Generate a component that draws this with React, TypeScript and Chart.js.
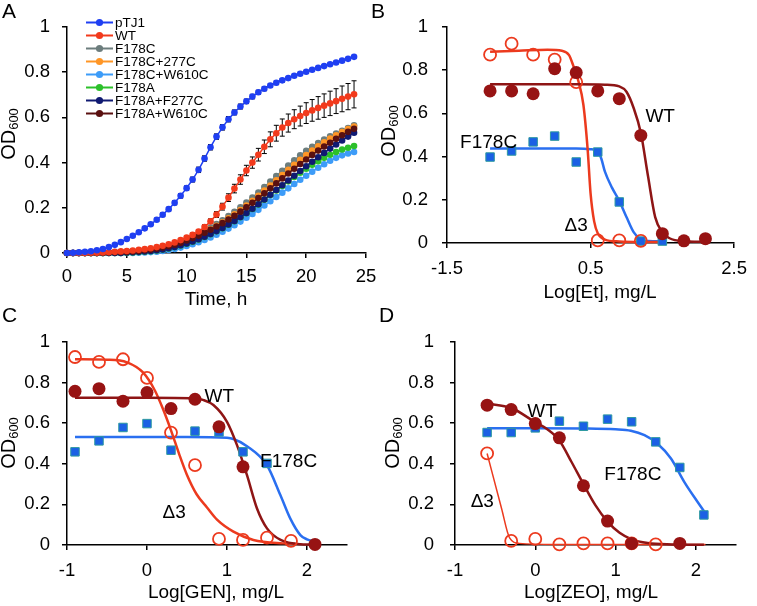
import React, { useEffect, useRef } from "react";
import { Chart, registerables } from "chart.js";

Chart.register(...registerables);

const FONT = "'Liberation Sans', Arial, Helvetica, sans-serif";
const W = 757;
const H = 606;

// ---------------- Panel A: growth curves ----------------
const TIME_H = [
  0, 0.5, 1, 1.5, 2, 2.5, 3, 3.5, 4, 4.5,
  5, 5.5, 6, 6.5, 7, 7.5, 8, 8.5, 9, 9.5,
  10, 10.5, 11, 11.5, 12, 12.5, 13, 13.5, 14, 14.5,
  15, 15.5, 16, 16.5, 17, 17.5, 18, 18.5, 19, 19.5,
  20, 20.5, 21, 21.5, 22, 22.5, 23, 23.5, 24,
];

const A_PTJ1 = [
  0.000, 0.001, 0.003, 0.005, 0.008, 0.012, 0.018, 0.026, 0.036, 0.048,
  0.062, 0.076, 0.092, 0.109, 0.127, 0.147, 0.169, 0.194, 0.222, 0.253,
  0.287, 0.325, 0.368, 0.418, 0.468, 0.515, 0.556, 0.592, 0.622, 0.648,
  0.671, 0.692, 0.711, 0.727, 0.741, 0.753, 0.764, 0.774, 0.784, 0.793,
  0.802, 0.811, 0.819, 0.827, 0.835, 0.843, 0.851, 0.859, 0.868,
];
const A_PTJ1_ERR = [
  0, 0, 0, 0, 0, 0, 0, 0, 0, 0,
  0.004, 0.005, 0.005, 0.006, 0.006, 0.007, 0.008, 0.008, 0.009, 0.01,
  0.01, 0.011, 0.012, 0.012, 0.012, 0.012, 0.012, 0.012, 0.011, 0.011,
  0.01, 0.01, 0.009, 0.009, 0.008, 0.008, 0.008, 0.007, 0.007, 0.007,
  0.006, 0.006, 0.006, 0.006, 0.006, 0.006, 0.006, 0.006, 0.006,
];
const A_WT = [
  0.000, 0.000, 0.000, 0.000, 0.001, 0.001, 0.002, 0.003, 0.005, 0.007,
  0.009, 0.011, 0.014, 0.017, 0.021, 0.026, 0.032, 0.039, 0.047, 0.057,
  0.068, 0.080, 0.095, 0.115, 0.140, 0.170, 0.205, 0.245, 0.285, 0.325,
  0.365, 0.400, 0.435, 0.470, 0.503, 0.530, 0.555, 0.575, 0.592, 0.606,
  0.619, 0.631, 0.642, 0.652, 0.662, 0.672, 0.682, 0.692, 0.702,
];
const A_WT_ERR = [
  0, 0, 0, 0, 0, 0, 0, 0, 0, 0,
  0, 0, 0, 0, 0, 0, 0.003, 0.004, 0.005, 0.006,
  0.007, 0.008, 0.009, 0.01, 0.011, 0.013, 0.015, 0.017, 0.019, 0.021,
  0.023, 0.025, 0.028, 0.03, 0.033, 0.035, 0.038, 0.04, 0.042, 0.044,
  0.046, 0.048, 0.05, 0.052, 0.054, 0.055, 0.057, 0.058, 0.06,
];
const A_F178C = [
  0, 0, 0, 0, 0, 0, 0, 0.001, 0.002, 0.003,
  0.004, 0.006, 0.008, 0.011, 0.014, 0.018, 0.023, 0.029, 0.036, 0.046,
  0.058, 0.070, 0.083, 0.097, 0.112, 0.128, 0.145, 0.163, 0.182, 0.202,
  0.223, 0.245, 0.268, 0.292, 0.316, 0.340, 0.364, 0.387, 0.410, 0.432,
  0.452, 0.470, 0.487, 0.502, 0.516, 0.529, 0.541, 0.553, 0.565,
];
const A_F178C_277C = [
  0, 0, 0, 0, 0, 0, 0, 0.001, 0.002, 0.003,
  0.004, 0.005, 0.007, 0.010, 0.013, 0.017, 0.022, 0.027, 0.034, 0.043,
  0.054, 0.066, 0.078, 0.091, 0.105, 0.120, 0.136, 0.153, 0.171, 0.190,
  0.210, 0.231, 0.253, 0.276, 0.299, 0.322, 0.345, 0.368, 0.390, 0.412,
  0.433, 0.453, 0.472, 0.490, 0.506, 0.521, 0.535, 0.548, 0.560,
];
const A_F178C_W610C = [
  0, 0, 0, 0, 0, 0, 0, 0, 0, 0,
  0, 0, 0.001, 0.002, 0.004, 0.006, 0.009, 0.013, 0.018, 0.024,
  0.031, 0.039, 0.048, 0.058, 0.069, 0.081, 0.094, 0.108, 0.123, 0.139,
  0.156, 0.173, 0.191, 0.210, 0.229, 0.248, 0.267, 0.286, 0.305, 0.324,
  0.342, 0.360, 0.377, 0.393, 0.408, 0.421, 0.432, 0.440, 0.447,
];
const A_F178A = [
  0, 0, 0, 0, 0, 0, 0, 0, 0, 0,
  0.001, 0.002, 0.004, 0.006, 0.008, 0.011, 0.015, 0.020, 0.026, 0.033,
  0.041, 0.050, 0.060, 0.071, 0.083, 0.096, 0.110, 0.125, 0.141, 0.158,
  0.176, 0.195, 0.215, 0.236, 0.257, 0.277, 0.297, 0.317, 0.336, 0.355,
  0.373, 0.390, 0.406, 0.421, 0.435, 0.447, 0.458, 0.466, 0.473,
];
const A_F178A_F277C = [
  0, 0, 0, 0, 0, 0, 0, 0, 0, 0,
  0.002, 0.003, 0.005, 0.007, 0.009, 0.012, 0.016, 0.021, 0.027, 0.034,
  0.042, 0.051, 0.061, 0.072, 0.084, 0.097, 0.111, 0.126, 0.142, 0.159,
  0.177, 0.196, 0.216, 0.237, 0.258, 0.279, 0.300, 0.321, 0.342, 0.363,
  0.384, 0.404, 0.424, 0.443, 0.462, 0.480, 0.498, 0.515, 0.532,
];
const A_F178A_W610C = [
  0, 0, 0, 0, 0, 0, 0.001, 0.002, 0.003, 0.004,
  0.005, 0.007, 0.009, 0.012, 0.015, 0.019, 0.024, 0.030, 0.037, 0.045,
  0.055, 0.066, 0.077, 0.090, 0.103, 0.117, 0.132, 0.148, 0.165, 0.183,
  0.202, 0.222, 0.243, 0.264, 0.286, 0.308, 0.330, 0.352, 0.373, 0.394,
  0.414, 0.434, 0.453, 0.471, 0.488, 0.505, 0.521, 0.536, 0.550,
];

const A_NAMES = ["pTJ1", "WT", "F178C", "F178C+277C", "F178C+W610C", "F178A", "F178A+F277C", "F178A+W610C"];
const A_COLORS = ["#1f3ff2", "#f23a1c", "#6c7d7d", "#ff9626", "#3d9cf8", "#2cc02a", "#101a72", "#5a1010"];
const A_VALUES = [A_PTJ1, A_WT, A_F178C, A_F178C_277C, A_F178C_W610C, A_F178A, A_F178A_F277C, A_F178A_W610C];
const A_ERRORS = [A_PTJ1_ERR, A_WT_ERR, null, null, null, null, null, null];

const A_X_TICKS = [0, 5, 10, 15, 20, 25];
const OD_TICKS = [0, 0.2, 0.4, 0.6, 0.8, 1];
const B_X_TICKS = [-1.5, 0.5, 2.5];
const CD_X_TICKS = [-1, 0, 1, 2];

// ---------------- Panel B: ethidium ----------------
const B_WT_X = [-0.9, -0.6, -0.3, 0, 0.3, 0.6, 0.9, 1.2, 1.5, 1.8, 2.1];
const B_WT_Y = [0.704, 0.704, 0.691, 0.807, 0.789, 0.704, 0.668, 0.498, 0.043, 0.010, 0.020];
const B_D3_X = [-0.9, -0.6, -0.3, 0, 0.3, 0.6, 0.9, 1.2];
const B_D3_Y = [0.872, 0.923, 0.872, 0.849, 0.745, 0.012, 0.012, 0.010];
const B_F178C_X = [-0.9, -0.6, -0.3, 0, 0.3, 0.6, 0.9, 1.2, 1.5];
const B_F178C_Y = [0.398, 0.426, 0.468, 0.495, 0.375, 0.421, 0.190, 0.009, 0.009];

const B_WT_FIT_X = [-0.9, -0.3, 0.3, 0.7, 0.9, 1.0, 1.1, 1.2, 1.3, 1.4, 1.5, 1.6, 1.8, 2.1];
const B_WT_FIT_Y = [0.735, 0.735, 0.735, 0.733, 0.725, 0.70, 0.625, 0.51, 0.31, 0.12, 0.05, 0.022, 0.008, 0.005];
const B_D3_FIT_X = [-0.9, -0.5, -0.1, 0.1, 0.2, 0.26, 0.33, 0.4, 0.46, 0.5, 0.55, 0.6, 0.7, 0.9, 1.2, 1.5];
const B_D3_FIT_Y = [0.885, 0.89, 0.895, 0.89, 0.87, 0.82, 0.75, 0.64, 0.43, 0.23, 0.10, 0.045, 0.016, 0.007, 0.005, 0.005];
const B_F178C_FIT_X = [-0.9, -0.3, 0.3, 0.5, 0.6, 0.65, 0.7, 0.8, 0.9, 1.0, 1.1, 1.2, 1.3, 1.5];
const B_F178C_FIT_Y = [0.438, 0.438, 0.437, 0.434, 0.425, 0.39, 0.33, 0.255, 0.195, 0.12, 0.05, 0.016, 0.009, 0.008];

// ---------------- Panel C: gentamicin ----------------
const C_WT_X = [-0.9, -0.6, -0.3, 0, 0.3, 0.6, 0.9, 1.2, 2.1];
const C_WT_Y = [0.757, 0.770, 0.708, 0.751, 0.672, 0.718, 0.582, 0.385, 0.003];
const C_D3_X = [-0.9, -0.6, -0.3, 0, 0.3, 0.6, 0.9, 1.2, 1.5, 1.8];
const C_D3_Y = [0.926, 0.902, 0.915, 0.823, 0.554, 0.393, 0.030, 0.025, 0.036, 0.020];
const C_F178C_X = [-0.9, -0.6, -0.3, 0, 0.3, 0.6, 0.9, 1.2, 1.5];
const C_F178C_Y = [0.459, 0.513, 0.579, 0.598, 0.467, 0.561, 0.557, 0.459, 0.402];

const C_WT_FIT_X = [-0.9, 0, 0.6, 0.7, 0.83, 1.0, 1.125, 1.25, 1.375, 1.5, 1.67, 1.92, 2.15];
const C_WT_FIT_Y = [0.725, 0.725, 0.722, 0.715, 0.69, 0.607, 0.492, 0.344, 0.18, 0.082, 0.025, 0.004, 0.002];
const C_D3_FIT_X = [-0.9, -0.5, -0.25, -0.05, 0.1, 0.2, 0.3, 0.4, 0.5, 0.62, 0.75, 0.875, 1.08, 1.33, 1.7, 1.85];
const C_D3_FIT_Y = [0.915, 0.913, 0.9, 0.85, 0.76, 0.67, 0.565, 0.45, 0.345, 0.25, 0.185, 0.125, 0.066, 0.025, 0.008, 0.006];
const C_F178C_FIT_X = [-0.9, 0.5, 1.0, 1.08, 1.25, 1.5, 1.667, 1.79, 1.917, 2.0, 2.125];
const C_F178C_FIT_Y = [0.532, 0.532, 0.528, 0.522, 0.487, 0.393, 0.246, 0.131, 0.049, 0.028, 0.016];

// ---------------- Panel D: zeocin ----------------
const D_WT_X = [-0.6, -0.3, 0, 0.3, 0.6, 0.9, 1.2, 1.8];
const D_WT_Y = [0.689, 0.667, 0.598, 0.528, 0.292, 0.118, 0.008, 0.008];
const D_D3_X = [-0.6, -0.3, 0, 0.3, 0.6, 0.9, 1.2, 1.5];
const D_D3_Y = [0.451, 0.020, 0.030, 0.003, 0.008, 0.008, 0.008, 0.003];
const D_F178C_X = [-0.6, -0.3, 0, 0.3, 0.6, 0.9, 1.2, 1.5, 1.8, 2.1];
const D_F178C_Y = [0.554, 0.554, 0.577, 0.610, 0.585, 0.620, 0.607, 0.508, 0.382, 0.148];

const D_WT_FIT_X = [-0.6, -0.3, 0, 0.15, 0.3, 0.45, 0.6, 0.75, 0.9, 1.05, 1.2, 1.4, 1.7, 2.1];
const D_WT_FIT_Y = [0.697, 0.675, 0.605, 0.57, 0.515, 0.41, 0.30, 0.195, 0.115, 0.06, 0.028, 0.01, 0.003, 0.001];
const D_D3_FIT_X = [-0.6, -0.42, -0.32, -0.2, 0.3, 1.2, 2.12];
const D_D3_FIT_Y = [0.451, 0.18, 0.035, 0.008, 0.003, 0.002, 0.002];
const D_F178C_FIT_X = [-0.6, 0, 0.6, 1.0, 1.19, 1.36, 1.52, 1.69, 1.855, 2.02, 2.12];
const D_F178C_FIT_Y = [0.575, 0.575, 0.574, 0.57, 0.563, 0.541, 0.5, 0.426, 0.311, 0.213, 0.156];

// ---------------- helpers ----------------
const zip = (xs: number[], ys: number[]) => xs.map((x, i) => ({ x, y: ys[i] }));

type Geo = { left: number; right: number; top: number; bottom: number };
type Lbl = { text: string; x: number; y: number };
type Decor = {
  letter: string;
  letterX: number;
  letterY: number;
  odX: number;
  odCy: number;
  xTitle: string;
  xTitleCx: number;
  xTitleBase: number;
  labels?: Lbl[];
  legend?: boolean;
  errors?: (number[] | null)[];
};

const Y_AXIS_W = 67;
const X_AXIS_H = 40;

function xAxis(min: number, max: number, ticks: number[], pad: number) {
  return {
    type: "linear",
    min,
    max,
    afterBuildTicks: (s: any) => {
      s.ticks = ticks.map((v) => ({ value: v }));
    },
    afterFit: (s: any) => {
      s.height = X_AXIS_H;
    },
    grid: { drawOnChartArea: false, drawTicks: true, tickLength: 5, color: "#000", lineWidth: 1.5 },
    border: { display: true, color: "#000", width: 1.5 },
    ticks: {
      color: "#000",
      font: { family: FONT, size: 18.5 },
      padding: pad,
      maxRotation: 0,
      autoSkip: false,
      callback: (v: any) => String(v),
    },
  };
}

function yAxis(pad: number) {
  return {
    type: "linear",
    min: 0,
    max: 1,
    afterBuildTicks: (s: any) => {
      s.ticks = OD_TICKS.map((v) => ({ value: v }));
    },
    afterFit: (s: any) => {
      s.width = Y_AXIS_W;
    },
    grid: { drawOnChartArea: false, drawTicks: true, tickLength: 5, color: "#000", lineWidth: 1.5 },
    border: { display: true, color: "#000", width: 1.5 },
    ticks: {
      color: "#000",
      font: { family: FONT, size: 18.5 },
      padding: pad,
      autoSkip: false,
      callback: (v: any) => String(v),
    },
  };
}

function makeDecor(d: Decor) {
  return {
    id: "decor" + d.letter,
    beforeDatasetsDraw(chart: any) {
      if (!d.errors) return;
      const ctx = chart.ctx;
      const ys = chart.scales.y;
      ctx.save();
      ctx.strokeStyle = "#000";
      ctx.lineWidth = 1;
      d.errors.forEach((err, i) => {
        if (!err) return;
        const meta = chart.getDatasetMeta(i);
        const vals = chart.data.datasets[i].data;
        meta.data.forEach((pt: any, j: number) => {
          const e = err[j];
          if (!e) return;
          const v = vals[j].y;
          const y1 = ys.getPixelForValue(v + e);
          const y2 = ys.getPixelForValue(v - e);
          const x = pt.x;
          ctx.beginPath();
          ctx.moveTo(x, y1);
          ctx.lineTo(x, y2);
          ctx.moveTo(x - 2.5, y1);
          ctx.lineTo(x + 2.5, y1);
          ctx.moveTo(x - 2.5, y2);
          ctx.lineTo(x + 2.5, y2);
          ctx.stroke();
        });
      });
      ctx.restore();
    },
    afterDraw(chart: any) {
      const ctx = chart.ctx;
      ctx.save();
      ctx.fillStyle = "#000";
      // panel letter
      ctx.font = `21px ${FONT}`;
      ctx.textAlign = "left";
      ctx.textBaseline = "alphabetic";
      ctx.fillText(d.letter, d.letterX, d.letterY);
      // x title
      ctx.font = `19px ${FONT}`;
      ctx.textAlign = "center";
      ctx.fillText(d.xTitle, d.xTitleCx, d.xTitleBase);
      // y title OD600 (rotated with subscript)
      ctx.save();
      ctx.font = `20px ${FONT}`;
      const w1 = ctx.measureText("OD").width;
      ctx.font = `13px ${FONT}`;
      const w2 = ctx.measureText("600").width;
      ctx.translate(d.odX, d.odCy);
      ctx.rotate(-Math.PI / 2);
      ctx.textAlign = "left";
      const start = -(w1 + w2) / 2;
      ctx.font = `20px ${FONT}`;
      ctx.fillText("OD", start, 0);
      ctx.font = `13px ${FONT}`;
      ctx.fillText("600", start + w1, 3);
      ctx.restore();
      // in-plot labels
      if (d.labels) {
        ctx.font = `19px ${FONT}`;
        ctx.textAlign = "center";
        ctx.textBaseline = "middle";
        const xs = chart.scales.x;
        const ys = chart.scales.y;
        d.labels.forEach((l) => {
          ctx.fillText(l.text, xs.getPixelForValue(l.x), ys.getPixelForValue(l.y));
        });
      }
      // legend (panel A)
      if (d.legend) {
        ctx.font = `13.5px ${FONT}`;
        ctx.textAlign = "left";
        ctx.textBaseline = "middle";
        A_NAMES.forEach((name, i) => {
          const y = 22.5 + i * 13;
          ctx.strokeStyle = A_COLORS[i];
          ctx.lineWidth = 2;
          ctx.beginPath();
          ctx.moveTo(86, y);
          ctx.lineTo(113, y);
          ctx.stroke();
          ctx.fillStyle = A_COLORS[i];
          ctx.beginPath();
          ctx.arc(99.5, y, 3.6, 0, Math.PI * 2);
          ctx.fill();
          ctx.fillStyle = "#000";
          ctx.fillText(name, 115, y + 0.5);
        });
      }
      ctx.restore();
    },
  };
}

function layoutPad(g: Geo) {
  return {
    left: g.left - Y_AXIS_W,
    top: g.top,
    right: W - g.right,
    bottom: H - g.bottom - X_AXIS_H,
  };
}

function baseOptions(g: Geo, x: any, y: any) {
  return {
    responsive: false,
    animation: false,
    devicePixelRatio: 1,
    layout: { padding: layoutPad(g) },
    plugins: { legend: { display: false }, tooltip: { enabled: false } },
    scales: { x, y },
  };
}

const WT_DOT = "#971313";
const WT_LINE = "#8e1515";
const D3_RED = "#ec3a1e";
const F_BLUE = "#1b60e4";
const F_EDGE = "#2e9aa0";
const F_LINE = "#2a6ff0";

function fitLine(xs: number[], ys: number[], color: string, width: number) {
  return {
    data: zip(xs, ys),
    borderColor: color,
    backgroundColor: color,
    borderWidth: width,
    pointRadius: 0,
    cubicInterpolationMode: "monotone",
    clip: false,
    order: 10,
  };
}
function wtDots(xs: number[], ys: number[]) {
  return {
    data: zip(xs, ys),
    showLine: false,
    pointStyle: "circle",
    pointRadius: 6.5,
    pointBackgroundColor: WT_DOT,
    pointBorderColor: WT_DOT,
    pointBorderWidth: 0,
    clip: false,
    order: 1,
  };
}
function d3Dots(xs: number[], ys: number[]) {
  return {
    data: zip(xs, ys),
    showLine: false,
    pointStyle: "circle",
    pointRadius: 6,
    pointBackgroundColor: "rgba(255,255,255,0)",
    pointBorderColor: D3_RED,
    pointBorderWidth: 1.8,
    clip: false,
    order: 2,
  };
}
function fSquares(xs: number[], ys: number[]) {
  return {
    data: zip(xs, ys),
    showLine: false,
    pointStyle: "rect",
    pointRadius: 6,
    pointBackgroundColor: F_BLUE,
    pointBorderColor: F_EDGE,
    pointBorderWidth: 1,
    clip: false,
    order: 3,
  };
}

// ---------------- chart configs ----------------
function configA() {
  const g = { left: 67, right: 366, top: 27, bottom: 253 };
  const order = [0, 1, 7, 6, 5, 4, 3, 2];
  return {
    type: "line",
    data: {
      datasets: A_VALUES.map((vals, i) => ({
        label: A_NAMES[i],
        data: zip(TIME_H, vals),
        borderColor: A_COLORS[i],
        backgroundColor: A_COLORS[i],
        pointBackgroundColor: A_COLORS[i],
        pointBorderColor: A_COLORS[i],
        pointBorderWidth: 0,
        pointRadius: 3.3,
        borderWidth: 1.5,
        clip: false,
        order: order[i],
      })),
    },
    options: baseOptions(g, xAxis(0, 25, A_X_TICKS, 8), yAxis(12)),
    plugins: [
      makeDecor({
        letter: "A", letterX: 2, letterY: 18,
        odX: 15, odCy: 134,
        xTitle: "Time, h", xTitleCx: 216, xTitleBase: 305,
        legend: true,
        errors: A_ERRORS,
      }),
    ],
  };
}

function configB() {
  const g = { left: 447, right: 745, top: 27, bottom: 243 };
  return {
    type: "line",
    data: {
      datasets: [
        fitLine(B_WT_FIT_X, B_WT_FIT_Y, WT_LINE, 2.5),
        fitLine(B_D3_FIT_X, B_D3_FIT_Y, D3_RED, 2.5),
        fitLine(B_F178C_FIT_X, B_F178C_FIT_Y, F_LINE, 2.5),
        fSquares(B_F178C_X, B_F178C_Y),
        d3Dots(B_D3_X, B_D3_Y),
        wtDots(B_WT_X, B_WT_Y),
      ],
    },
    options: baseOptions(g, xAxis(-1.5, 2.5, B_X_TICKS, 10), yAxis(14)),
    plugins: [
      makeDecor({
        letter: "B", letterX: 371, letterY: 18,
        odX: 395, odCy: 131,
        xTitle: "Log[Et], mg/L", xTitleCx: 600, xTitleBase: 298,
        labels: [
          { text: "WT", x: 1.47, y: 0.583 },
          { text: "F178C", x: -0.92, y: 0.463 },
          { text: "Δ3", x: 0.3, y: 0.079 },
        ],
      }),
    ],
  };
}

function configC() {
  const g = { left: 67, right: 347, top: 342, bottom: 545 };
  return {
    type: "line",
    data: {
      datasets: [
        fitLine(C_WT_FIT_X, C_WT_FIT_Y, WT_LINE, 2.5),
        fitLine(C_D3_FIT_X, C_D3_FIT_Y, D3_RED, 2.5),
        fitLine(C_F178C_FIT_X, C_F178C_FIT_Y, F_LINE, 2.5),
        fSquares(C_F178C_X, C_F178C_Y),
        d3Dots(C_D3_X, C_D3_Y),
        wtDots(C_WT_X, C_WT_Y),
      ],
    },
    options: baseOptions(g, xAxis(-1, 2.5, CD_X_TICKS, 10), yAxis(12)),
    plugins: [
      makeDecor({
        letter: "C", letterX: 2, letterY: 322,
        odX: 15, odCy: 443,
        xTitle: "Log[GEN], mg/L", xTitleCx: 216, xTitleBase: 598,
        labels: [
          { text: "WT", x: 0.904, y: 0.73 },
          { text: "F178C", x: 1.77, y: 0.41 },
          { text: "Δ3", x: 0.34, y: 0.157 },
        ],
      }),
    ],
  };
}

function configD() {
  const g = { left: 455, right: 736, top: 342, bottom: 545 };
  return {
    type: "line",
    data: {
      datasets: [
        fitLine(D_WT_FIT_X, D_WT_FIT_Y, WT_LINE, 2.5),
        fitLine(D_D3_FIT_X, D_D3_FIT_Y, D3_RED, 1.5),
        fitLine(D_F178C_FIT_X, D_F178C_FIT_Y, F_LINE, 2.5),
        fSquares(D_F178C_X, D_F178C_Y),
        d3Dots(D_D3_X, D_D3_Y),
        wtDots(D_WT_X, D_WT_Y),
      ],
    },
    options: baseOptions(g, xAxis(-1, 2.5, CD_X_TICKS, 10), yAxis(16)),
    plugins: [
      makeDecor({
        letter: "D", letterX: 379, letterY: 322,
        odX: 399, odCy: 443,
        xTitle: "Log[ZEO], mg/L", xTitleCx: 591, xTitleBase: 598,
        labels: [
          { text: "WT", x: 0.085, y: 0.656 },
          { text: "F178C", x: 1.215, y: 0.344 },
          { text: "Δ3", x: -0.66, y: 0.213 },
        ],
      }),
    ],
  };
}

function Panel({ make }: { make: () => any }) {
  const ref = useRef<HTMLCanvasElement>(null);
  useEffect(() => {
    const chart = new Chart(ref.current as HTMLCanvasElement, make());
    return () => chart.destroy();
  }, [make]);
  return (
    <canvas
      ref={ref}
      width={W}
      height={H}
      style={{ position: "absolute", left: 0, top: 0, width: W, height: H }}
    />
  );
}

export default function App() {
  return (
    <div
      style={{
        position: "absolute",
        left: 0,
        top: 0,
        width: W,
        height: H,
        background: "#fff",
        overflow: "hidden",
      }}
    >
      <Panel make={configA} />
      <Panel make={configB} />
      <Panel make={configC} />
      <Panel make={configD} />
    </div>
  );
}
